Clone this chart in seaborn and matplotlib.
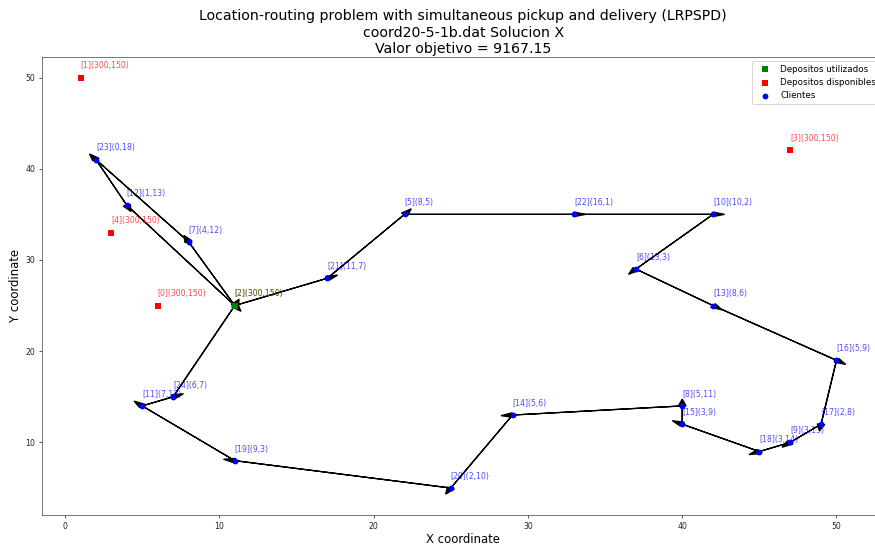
import matplotlib
matplotlib.use("Agg")
import matplotlib.pyplot as plt
import seaborn as sns
import pandas as pd

# ---- data ----
depot_ids = [0, 1, 2, 3, 4]
depot_x = [6, 1, 11, 47, 3]
depot_y = [25, 50, 25, 42, 33]
depot_cap = [300, 300, 300, 300, 300]
depot_cost = [150, 150, 150, 150, 150]
used_depots = [2]

client_ids = [5, 6, 7, 8, 9, 10, 11, 12, 13, 14, 15, 16, 17, 18, 19, 20, 21, 22, 23, 24]
client_x = [22, 37, 8, 40, 47, 42, 5, 4, 42, 29, 40, 50, 49, 45, 11, 25, 17, 33, 2, 7]
client_y = [35, 29, 32, 14, 10, 35, 14, 36, 25, 13, 12, 19, 12, 9, 8, 5, 28, 35, 41, 15]
client_a = [8, 13, 4, 5, 3, 10, 7, 1, 8, 5, 3, 5, 2, 3, 9, 2, 11, 16, 0, 6]
client_b = [5, 3, 12, 11, 13, 2, 13, 13, 6, 6, 9, 9, 8, 14, 3, 10, 7, 1, 18, 7]

routes = [
    [2, 7, 23, 12, 2],
    [2, 21, 5, 22, 10, 6, 13, 16, 17, 9, 18, 15, 8, 14, 20, 19, 11, 24, 2],
]

title_lines = [
    "Location-routing problem with simultaneous pickup and delivery (LRPSPD)",
    "coord20-5-1b.dat Solucion X",
    "Valor objetivo = 9167.15",
]

# ---- build tables ----
depots = pd.DataFrame({"id": depot_ids, "x": depot_x, "y": depot_y,
                       "a": depot_cap, "b": depot_cost})
clients = pd.DataFrame({"id": client_ids, "x": client_x, "y": client_y,
                        "a": client_a, "b": client_b})
coords = {}
for df in (depots, clients):
    for _, r in df.iterrows():
        coords[int(r["id"])] = (r["x"], r["y"])

used = depots[depots["id"].isin(used_depots)]
avail = depots[~depots["id"].isin(used_depots)]

fig = plt.figure(figsize=(12.5, 545 / 70), dpi=70)
ax = fig.add_axes([0.0483, 0.0551, 0.962, 0.8409])

sns.scatterplot(data=used, x="x", y="y", color="green", marker="s", s=30,
                linewidth=0, label="Depositos utilizados", ax=ax, zorder=3)
sns.scatterplot(data=avail, x="x", y="y", color="red", marker="s", s=30,
                linewidth=0, label="Depositos disponibles", ax=ax, zorder=3)
sns.scatterplot(data=clients, x="x", y="y", color="blue", marker="o", s=36,
                linewidth=0, label="Clientes", ax=ax, zorder=3)

for _, r in depots.iterrows():
    ax.text(r["x"], r["y"] + 1, f"[{int(r['id'])}]({int(r['a'])},{int(r['b'])})",
            color="red", alpha=0.7, fontsize=8)
for _, r in used.iterrows():
    ax.text(r["x"], r["y"] + 1, f"[{int(r['id'])}]({int(r['a'])},{int(r['b'])})",
            color="green", alpha=0.7, fontsize=8)
for _, r in clients.iterrows():
    ax.text(r["x"], r["y"] + 1, f"[{int(r['id'])}]({int(r['a'])},{int(r['b'])})",
            color="blue", alpha=0.7, fontsize=8)

for route in routes:
    for a, b in zip(route[:-1], route[1:]):
        x0, y0 = coords[a]
        x1, y1 = coords[b]
        ax.arrow(x0, y0, x1 - x0, y1 - y0, head_width=0.5, linewidth=1.3,
                 fc="black", ec="black", length_includes_head=False, zorder=2)

ax.tick_params(labelsize=8, colors="#333333", labelcolor="#222222")
for sp in ax.spines.values():
    sp.set_color("#555555")
ax.set_xlabel("X coordinate", fontsize=12, labelpad=2)
ax.set_ylabel("Y coordinate", fontsize=12)
ax.set_title("\n".join(title_lines), fontsize=14.5, pad=4)
ax.legend(loc="upper right", fontsize=9)

fig.savefig("out.png", dpi=70)
